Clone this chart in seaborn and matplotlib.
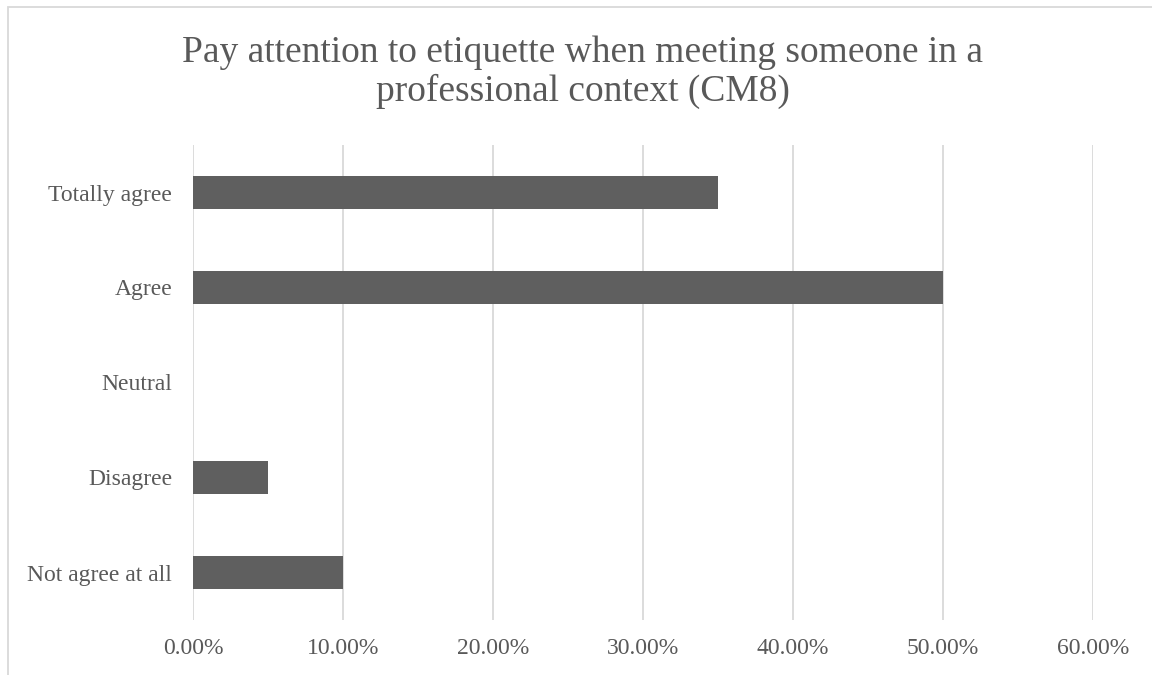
import matplotlib
matplotlib.use("Agg")
import matplotlib.pyplot as plt
import seaborn as sns
import pandas as pd
from matplotlib.ticker import FuncFormatter, MultipleLocator
from matplotlib.patches import Rectangle

categories = ["Totally agree", "Agree", "Neutral", "Disagree", "Not agree at all"]
values = [0.35, 0.50, 0.0, 0.05, 0.10]
title = "Pay attention to etiquette when meeting someone in a\nprofessional context (CM8)"

sns.set_theme(style="white")
plt.rcParams['font.family'] = ['Liberation Serif', 'DejaVu Serif']

W, H = 1152, 675
fig = plt.figure(figsize=(W / 100, H / 100), dpi=100)
ax = fig.add_axes([193 / W, 1 - 620 / H, (1093 - 193) / W, (620 - 145) / H])

df = pd.DataFrame({"cat": categories, "val": values})
sns.barplot(data=df, y="cat", x="val", orient="h", color="#5f5f5f",
            saturation=1, width=0.35, ax=ax, edgecolor="none")

ax.set_xlim(0, 0.6)
ax.set_ylim(4.5, -0.5)
ax.xaxis.set_major_locator(MultipleLocator(0.1))
ax.xaxis.set_major_formatter(FuncFormatter(lambda v, p: f"{v*100:.2f}%"))
ax.grid(axis="x", color="#d9d9d9", linewidth=1.3)
ax.set_axisbelow(True)
for s in ax.spines.values():
    s.set_visible(False)
ax.set_xlabel("")
ax.set_ylabel("")
ax.tick_params(axis="both", length=0, labelsize=17, colors="#595959")
ax.tick_params(axis="x", pad=13)
ax.tick_params(axis="y", pad=15)

fig.text(583 / W, 1 - 72 / H, title, ha="center", va="center", fontsize=27,
         color="#595959", linespacing=1.12)

fig.patches.append(Rectangle((8 / W, -0.1), 1.2, 1 - 7 / H + 0.1, transform=fig.transFigure,
                             fill=False, edgecolor="#d9d9d9", linewidth=1.3))

fig.savefig("out.png", dpi=100)
